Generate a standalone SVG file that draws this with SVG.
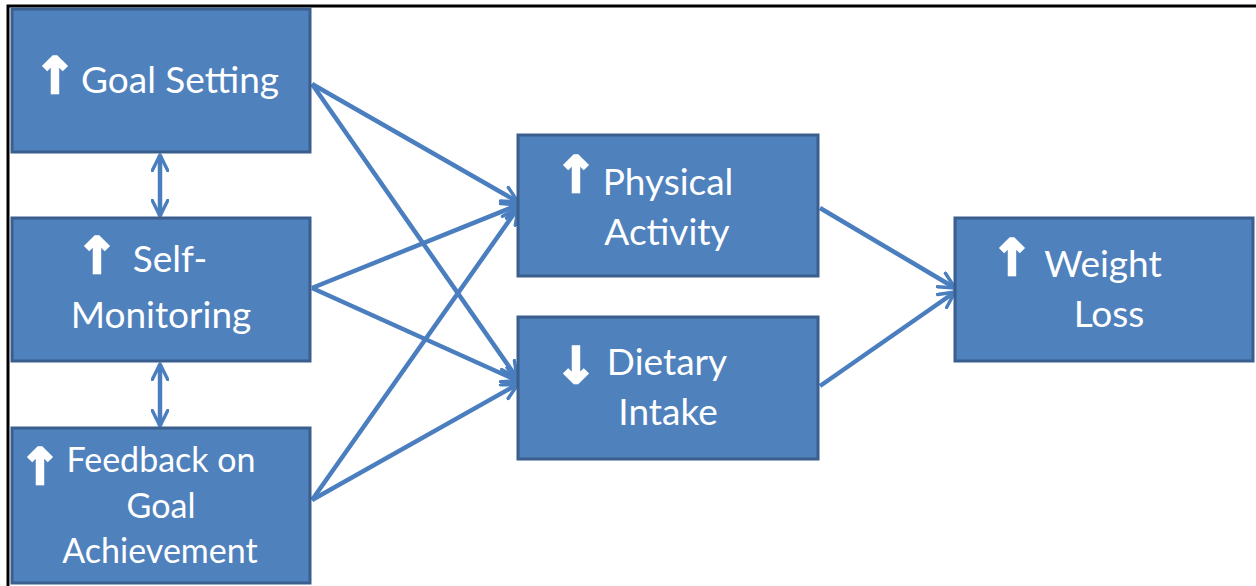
<svg xmlns="http://www.w3.org/2000/svg" width="1256" height="586" viewBox="0 0 1256 586">
<style>
.box{fill:#4F81BD;stroke:#3A5F8E;stroke-width:3}
.t{font-family:Lato,"Open Sans",sans-serif;font-size:37px;fill:#FFFFFF}
.s{font-size:34px}
.ar{font-family:"DejaVu Sans",sans-serif;font-weight:bold;font-size:50px;fill:#FFFFFF;stroke:#FFFFFF;stroke-width:2.5}
.c{stroke:#4A7EBF;stroke-width:4.5;fill:none}
</style>
<defs>
<marker id="ah" viewBox="0 0 12 12" refX="11" refY="6" markerWidth="4.2" markerHeight="4.2" orient="auto-start-reverse" markerUnits="strokeWidth">
<path d="M1,1 L11,6 L1,11" fill="none" stroke="#4A7EBF" stroke-width="2.2" stroke-linecap="round" stroke-linejoin="round"/>
</marker>
</defs>
<rect x="0" y="0" width="1256" height="586" fill="#FFFFFF"/>
<path d="M8,586 V6 H1256" fill="none" stroke="#000000" stroke-width="3"/>
<g id="connectors">
<line class="c" x1="312" y1="84" x2="518" y2="202" marker-end="url(#ah)"/>
<line class="c" x1="312" y1="84" x2="517" y2="378" marker-end="url(#ah)"/>
<line class="c" x1="312" y1="288" x2="518" y2="205" marker-end="url(#ah)"/>
<line class="c" x1="312" y1="288" x2="518" y2="381" marker-end="url(#ah)"/>
<line class="c" x1="312" y1="500" x2="518" y2="208" marker-end="url(#ah)"/>
<line class="c" x1="312" y1="500" x2="518" y2="384" marker-end="url(#ah)"/>
<line class="c" x1="820" y1="208" x2="955" y2="288" marker-end="url(#ah)"/>
<line class="c" x1="820" y1="386" x2="955" y2="292" marker-end="url(#ah)"/>
<line class="c" x1="160" y1="155" x2="160" y2="216" marker-start="url(#ah)" marker-end="url(#ah)"/>
<line class="c" x1="160" y1="364" x2="160" y2="426" marker-start="url(#ah)" marker-end="url(#ah)"/>
</g>
<g id="goal-setting">
<rect class="box" x="12" y="9" width="298" height="143"/>
<text class="ar" x="55" y="93" text-anchor="middle">↑</text>
<text class="t" x="180" y="93" text-anchor="middle">Goal Setting</text>
</g>
<g id="self-monitoring">
<rect class="box" x="12" y="218" width="298" height="143"/>
<text class="ar" x="97" y="273" text-anchor="middle">↑</text>
<text class="t" x="170" y="272" text-anchor="middle">Self-</text>
<text class="t" x="161" y="328" text-anchor="middle">Monitoring</text>
</g>
<g id="feedback">
<rect class="box" x="12" y="428" width="298" height="155"/>
<text class="ar" x="40" y="484" text-anchor="middle">↑</text>
<text class="t s" x="161" y="472" text-anchor="middle">Feedback on</text>
<text class="t s" x="161" y="518" text-anchor="middle">Goal</text>
<text class="t s" x="160" y="563" text-anchor="middle">Achievement</text>
</g>
<g id="physical-activity">
<rect class="box" x="518" y="135" width="300" height="141"/>
<text class="ar" x="576" y="192" text-anchor="middle">↑</text>
<text class="t" x="668" y="195" text-anchor="middle">Physical</text>
<text class="t" x="667" y="245" text-anchor="middle">Activity</text>
</g>
<g id="dietary-intake">
<rect class="box" x="518" y="317" width="300" height="142"/>
<text class="ar" x="576" y="383" text-anchor="middle">↓</text>
<text class="t" x="667" y="375" text-anchor="middle">Dietary</text>
<text class="t" x="668" y="425" text-anchor="middle">Intake</text>
</g>
<g id="weight-loss">
<rect class="box" x="955" y="218" width="298" height="143"/>
<text class="ar" x="1012" y="275" text-anchor="middle">↑</text>
<text class="t" x="1103" y="277" text-anchor="middle">Weight</text>
<text class="t" x="1109" y="327" text-anchor="middle">Loss</text>
</g>
</svg>
